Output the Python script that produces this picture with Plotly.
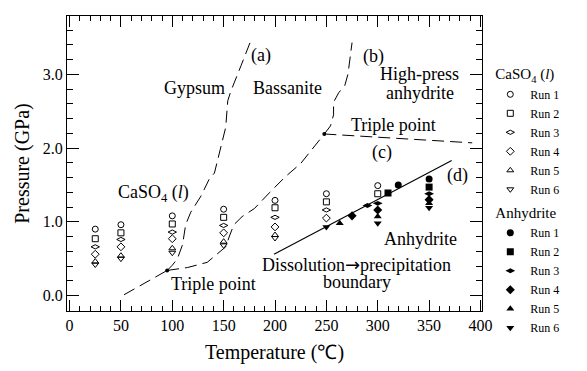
import plotly.graph_objects as go

# ---------------- data ----------------
runs = ["Run 1", "Run 2", "Run 3", "Run 4", "Run 5", "Run 6"]

# CaSO4 (l) (open symbols)
liq_T = [
    [25, 50, 100, 150, 200, 250, 300],
    [25, 50, 100, 150, 200, 250, 300],
    [25, 50, 100, 150, 200, 250],
    [25, 50, 100, 150, 200, 250],
    [25, 50, 100, 150, 200],
    [25, 50, 100, 150, 200],
]
liq_P = [
    [0.90, 0.96, 1.08, 1.17, 1.29, 1.38, 1.49],
    [0.77, 0.85, 0.97, 1.06, 1.19, 1.27, 1.38],
    [0.66, 0.76, 0.86, 0.95, 1.06, 1.16],
    [0.56, 0.66, 0.77, 0.85, 0.93, 1.05],
    [0.46, 0.54, 0.64, 0.73, 0.82],
    [0.42, 0.50, 0.58, 0.68, 0.78],
]

# Anhydrite (filled symbols)
anh_T = [
    [320, 350],
    [310, 350],
    [290, 300, 350],
    [275, 300, 350],
    [263, 300, 350],
    [250, 300, 350],
]
anh_P = [
    [1.50, 1.58],
    [1.39, 1.47],
    [1.22, 1.25, 1.38],
    [1.08, 1.16, 1.30],
    [0.98, 1.07, 1.25],
    [0.93, 0.98, 1.19],
]

symbols = ["circle", "square", "diamond-wide", "diamond", "triangle-up", "triangle-down"]

# phase boundaries (dashed)
a_T = [95, 100, 105, 110, 113, 118, 128, 136, 141, 147, 152, 154, 157, 167, 176]
a_P = [0.34, 0.41, 0.50, 0.69, 0.96, 1.13, 1.35, 1.58, 1.66, 2.02, 2.28, 2.64, 2.77, 3.12, 3.44]

low_T = [53, 95]
low_P = [0.01, 0.34]

c_T = [95, 115, 134, 152, 156, 160, 168, 180, 195, 210, 225, 248]
c_P = [0.34, 0.38, 0.45, 0.66, 0.82, 0.96, 1.07, 1.18, 1.40, 1.61, 1.79, 2.19]

b_T = [248, 254, 257, 257, 262, 268, 271, 273, 275]
b_P = [2.19, 2.30, 2.45, 2.62, 2.75, 2.85, 3.00, 3.20, 3.43]

hp_T = [248, 392]
hp_P = [2.19, 2.07]

# dissolution -> precipitation boundary (solid)
d_T = [199, 372]
d_P = [0.56, 1.83]

# triple points
tp_T = [95, 248]
tp_P = [0.34, 2.19]

x_ticks = [0, 50, 100, 150, 200, 250, 300, 350, 400]
y_ticks = [0.0, 1.0, 2.0, 3.0]

FONT = "Liberation Serif, Times New Roman, serif"

fig = go.Figure()

dash = "12px,6px"
for T, P in [(low_T, low_P), (a_T, a_P), (c_T, c_P), (b_T, b_P), (hp_T, hp_P)]:
    fig.add_trace(go.Scatter(x=T, y=P, mode="lines", line=dict(color="black", width=1, dash=dash),
                             showlegend=False, hoverinfo="skip"))

fig.add_trace(go.Scatter(x=d_T, y=d_P, mode="lines", line=dict(color="black", width=1.1),
                         showlegend=False, hoverinfo="skip"))

fig.add_trace(go.Scatter(x=tp_T, y=tp_P, mode="markers", marker=dict(color="black", size=4),
                         showlegend=False, hoverinfo="skip"))

for i, name in enumerate(runs):
    fig.add_trace(go.Scatter(
        x=liq_T[i], y=liq_P[i], mode="markers", name=name,
        marker=dict(symbol=symbols[i] + "-open", size=6, color="black", line=dict(width=1, color="black")),
        legendgroup="liq", legendgrouptitle=dict(text="CaSO<sub>4</sub> (<i>l</i>)",
                                                 font=dict(family=FONT, size=15, color="black")),
    ))

for i, name in enumerate(runs):
    fig.add_trace(go.Scatter(
        x=anh_T[i], y=anh_P[i], mode="markers", name=name,
        marker=dict(symbol=symbols[i], size=7, color="black", line=dict(width=0)),
        legendgroup="anh", legendgrouptitle=dict(text="Anhydrite",
                                                 font=dict(family=FONT, size=15, color="black")),
    ))

labels = [
    ("(a)", 186, 3.25), ("Gypsum", 121.5, 2.82), ("Bassanite", 212.5, 2.82),
    ("(b)", 296, 3.24), ("High-press", 341, 3.00), ("anhydrite", 341, 2.75),
    ("Triple point", 315, 2.31), ("(c)", 304, 1.94), ("(d)", 377.5, 1.63),
    ("CaSO<sub>4</sub> (<i>l</i>)", 81.6, 1.39), ("Triple point", 140, 0.15),
    ("Anhydrite", 341.3, 0.76),
    ("Dissolution<span style=\"font-family:DejaVu Sans\">\u2192</span>precipitation", 279.4, 0.42),
    ("boundary", 280, 0.185),
]
for txt, x, y in labels:
    fig.add_annotation(x=x, y=y, text=txt, showarrow=False, xanchor="center", yanchor="middle",
                       font=dict(family=FONT, size=18, color="black"))

axis_common = dict(
    showline=True, linecolor="black", linewidth=1.2, mirror="allticks",
    ticks="inside", tickcolor="black", tickwidth=1, showgrid=False, zeroline=False,
    tickfont=dict(family=FONT, size=16, color="black"),
)

fig.update_xaxes(
    range=[-2.5, 401.5], tickvals=x_ticks, ticklen=11,
    minor=dict(dtick=10, tick0=0, ticks="inside", ticklen=5, tickcolor="black", tickwidth=1, showgrid=False),
    title=dict(text="Temperature (\u2103)", font=dict(family=FONT, size=20, color="black"), standoff=11),
    **axis_common,
)
fig.update_yaxes(
    range=[-0.21, 3.79], tickvals=y_ticks, tickformat=".1f", ticklen=12,
    minor=dict(dtick=0.2, tick0=0, ticks="inside", ticklen=6, tickcolor="black", tickwidth=1, showgrid=False),
    title=dict(text="Pressure (GPa)", font=dict(family=FONT, size=20, color="black"), standoff=7),
    **axis_common,
)

fig.update_layout(
    width=587, height=371,
    margin=dict(l=67, r=105, t=16, b=53),
    paper_bgcolor="white", plot_bgcolor="white",
    legend=dict(x=1.02, y=0.86, xanchor="left", yanchor="top", traceorder="grouped",
                tracegroupgap=2, font=dict(family=FONT, size=12, color="black"),
                itemwidth=30, bgcolor="rgba(0,0,0,0)"),
    font=dict(family=FONT, color="black"),
)

fig.write_html("out.html")
